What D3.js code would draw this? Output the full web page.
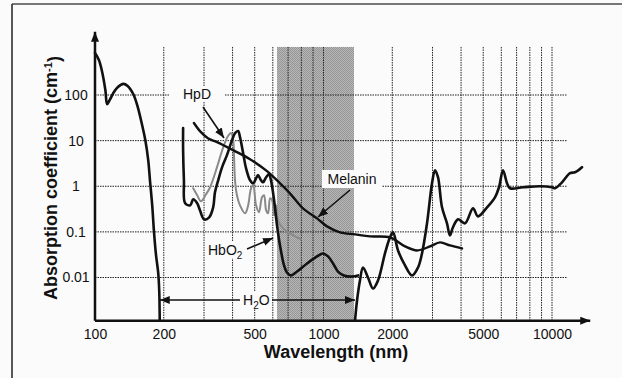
<!DOCTYPE html>
<html>
<head>
<meta charset="utf-8">
<script src="https://cdn.jsdelivr.net/npm/d3@7"></script>
<style>
  body { margin: 0; background: #fff; }
  text { font-family: Arial, "Liberation Sans", Helvetica, sans-serif; fill: #111; }
</style>
</head>
<body>
<svg id="chart" width="622" height="378"></svg>
<script>
// absorption spectra (nm, cm^-1)
var h2oLeftNm = [100,104,107,111,113,116,121,126,133,139,147,153,159,166,171,174,178,181,185,189,191,192];
var h2oLeftAbs = [838,588,354,129,63,78,116,150,175,158,105,60,28,10.3,3.7,1.35,0.38,0.108,0.0305,0.0129,0.0052,0.00113];

var h2oRightNm = [1374,1402,1444,1489,1566,1647,1732,1858,1954,2015,2119,2274,2440,2592,2698,2838,2985,3076,3170,3301,3471,3577,3687,3878,4162,4511,4745,5195,5630,5863,6104,6356,6549,7467,8862,10000,10306,11060,11990,12610,13530];
var h2oRightAbs = [0.00113,0.00313,0.0086,0.0166,0.0100,0.00573,0.0086,0.0337,0.0757,0.0975,0.0392,0.0184,0.0111,0.0166,0.0337,0.154,1.16,2.25,1.58,0.345,0.154,0.0838,0.126,0.188,0.154,0.328,0.219,0.345,0.573,0.95,2.25,1.16,0.904,0.95,1.0,0.95,0.904,1.22,1.93,2.03,2.62];

var hbo2Nm = [243,243,245,248,261,269,280,288,300,316,329,335,346,360,378,398,410,423,431,445,458,477,492,507,517,533,544,561,578,589,608,626,645,672,692,721,766,847,937,995,1046,1101,1157,1229,1333,1416];
var hbo2Abs = [18.8,6.18,1.35,0.423,0.382,0.518,0.423,0.297,0.188,0.208,0.345,0.738,1.35,2.62,4.80,10.3,14.6,16.2,11.9,5.31,2.49,1.35,1.16,1.50,1.75,1.35,1.22,1.58,1.84,1.35,0.492,0.139,0.0505,0.0184,0.0129,0.0111,0.0135,0.0203,0.029,0.0337,0.029,0.0203,0.0135,0.0111,0.0105,0.0111];

var hpdNm = [269,280,291,306,319,342,363,382,394,402,406,410,418,431,454,467,482,492,507,522,538,549,561,572,584,596,608,620,632,665,713,797];
var hpdAbs = [0.904,0.634,0.468,0.667,0.95,2.62,6.84,12.6,14.6,10.8,4.34,1.35,0.634,0.382,0.255,0.363,0.904,1.05,0.382,0.268,0.573,0.634,0.297,0.255,0.545,0.492,0.231,0.382,0.179,0.119,0.0927,0.0684];

var melaninNm = [271,288,312,342,402,477,566,645,713,813,937,1036,1181,1374,1598,1954,2274,2566,2925,3235,3577,4037];
var melaninAbs = [24.3,16.2,11.3,9.27,6.18,3.92,2.14,1.16,0.70,0.328,0.198,0.132,0.0975,0.0881,0.0796,0.0757,0.048,0.0392,0.048,0.0588,0.0505,0.0434];

var xTicks = [100,200,500,1000,2000,5000,10000];
var yTicks = [100,10,1,0.1,0.01];
var waterBand = [626, 1360];   // shaded H2O window

var svg = d3.select("#chart");
var x = d3.scaleLog().domain([100, 10000]).range([95, 552]);
var y = d3.scaleLog().domain([0.01, 100]).range([277.5, 95]);
var yMin = 0.00113, gridTop = 1130, gridRight = 11600, axisTop = 2430, axisRight = 14700;

// page
svg.append("rect").attr("width", 622).attr("height", 378).attr("fill", "#fbfbfb");
svg.append("line").attr("x1", 12).attr("x2", 622).attr("y1", 4).attr("y2", 4)
  .attr("stroke", "#777").attr("stroke-width", 2);
svg.append("line").attr("x1", 12).attr("x2", 12).attr("y1", 4).attr("y2", 378)
  .attr("stroke", "#222").attr("stroke-width", 1.5);

var defs = svg.append("defs");
var pat = defs.append("pattern").attr("id", "halftone").attr("width", 2).attr("height", 2)
  .attr("patternUnits", "userSpaceOnUse");
pat.append("rect").attr("width", 2).attr("height", 2).attr("fill", "#b6b6b6");
pat.append("rect").attr("width", 1).attr("height", 1).attr("fill", "#979797");
pat.append("rect").attr("x", 1).attr("y", 1).attr("width", 1).attr("height", 1).attr("fill", "#979797");

defs.append("marker").attr("id", "head").attr("viewBox", "0 0 10 8")
  .attr("refX", 10).attr("refY", 4).attr("markerWidth", 10).attr("markerHeight", 8)
  .attr("markerUnits", "userSpaceOnUse").attr("orient", "auto")
  .append("path").attr("d", "M0,0L10,4L0,8Z").attr("fill", "#111");

// shaded band
svg.append("rect")
  .attr("x", x(waterBand[0])).attr("width", x(waterBand[1]) - x(waterBand[0]))
  .attr("y", y(gridTop)).attr("height", y(yMin) - y(gridTop))
  .attr("fill", "url(#halftone)");

// grid
var vGrid = d3.range(2, 10).map(function(d) { return d * 100; })
  .concat(d3.range(1, 10).map(function(d) { return d * 1000; })).concat([10000]);
svg.append("g").selectAll("line").data(vGrid).enter().append("line")
  .attr("x1", function(d) { return x(d); }).attr("x2", function(d) { return x(d); })
  .attr("y1", y(gridTop)).attr("y2", y(yMin))
  .attr("stroke", "#222").attr("stroke-width", 1).attr("stroke-dasharray", "1.5,1");
svg.append("g").selectAll("line").data(yTicks).enter().append("line")
  .attr("x1", x(100)).attr("x2", x(gridRight))
  .attr("y1", function(d) { return y(d); }).attr("y2", function(d) { return y(d); })
  .attr("stroke", "#222").attr("stroke-width", 1).attr("stroke-dasharray", "1.5,1");

// curves
var line = d3.line()
  .x(function(d) { return x(d[0]); })
  .y(function(d) { return y(d[1]); })
  .curve(d3.curveCatmullRom.alpha(0.5));
function draw(nm, ab, color, w) {
  svg.append("path").datum(d3.zip(nm, ab)).attr("d", line)
    .attr("fill", "none").attr("stroke", color).attr("stroke-width", w)
    .attr("stroke-linejoin", "round").attr("stroke-linecap", "round");
}
draw(hpdNm, hpdAbs, "#8a8a8a", 2);
draw(melaninNm, melaninAbs, "#111", 2.4);
draw(hbo2Nm, hbo2Abs, "#111", 2.6);
draw(h2oLeftNm, h2oLeftAbs, "#111", 2.6);
draw(h2oRightNm, h2oRightAbs, "#111", 2.6);

// axes
svg.append("line").attr("x1", x(100)).attr("x2", x(axisRight)).attr("y1", y(yMin)).attr("y2", y(yMin))
  .attr("stroke", "#111").attr("stroke-width", 2.5).attr("marker-end", "url(#head)");
svg.append("line").attr("x1", x(100)).attr("x2", x(100)).attr("y1", y(yMin)).attr("y2", y(axisTop))
  .attr("stroke", "#111").attr("stroke-width", 2.5).attr("marker-end", "url(#head)");

var xAxis = svg.append("g").attr("transform", "translate(0," + y(yMin) + ")")
  .call(d3.axisBottom(x).tickValues(xTicks).tickFormat(d3.format("d")).tickSize(0).tickPadding(8));
var yAxis = svg.append("g").attr("transform", "translate(" + x(100) + ",0)")
  .call(d3.axisLeft(y).tickValues(yTicks).tickFormat(function(d) { return String(d); }).tickSize(0));
[xAxis, yAxis].forEach(function(g) {
  g.select(".domain").remove();
  g.selectAll("text").style("font-size", "14px").attr("fill", "#111")
    .style("font-family", "Arial, 'Liberation Sans', sans-serif");
});
yAxis.selectAll("text").attr("text-anchor", "middle").attr("x", -19);

svg.append("text").attr("x", 336).attr("y", 358).attr("text-anchor", "middle")
  .style("font-size", "18px").style("font-weight", "bold").text("Wavelength (nm)");
var yt = svg.append("text").attr("transform", "translate(51,178) rotate(-90)")
  .attr("text-anchor", "middle").attr("dy", "0.35em")
  .style("font-size", "18px").style("font-weight", "bold");
yt.append("tspan").text("Absorption coefficient (cm");
yt.append("tspan").attr("dy", "-0.45em").style("font-size", "11px").text("-1");
yt.append("tspan").attr("dy", "0.45em").text(")");

// annotations
function label(cx, cy, w, h) {
  svg.append("rect").attr("x", cx - w / 2).attr("y", cy - h / 2).attr("width", w).attr("height", h)
    .attr("fill", "#fbfbfb");
}
function arrow(x1, y1, x2, y2) {
  svg.append("line").attr("x1", x1).attr("y1", y1).attr("x2", x2).attr("y2", y2)
    .attr("stroke", "#111").attr("stroke-width", 1.6).attr("marker-end", "url(#head)");
}
label(197, 94, 56, 16);
svg.append("text").attr("x", 197).attr("y", 99).attr("text-anchor", "middle").style("font-size", "14px").text("HpD");
arrow(203, 107, 224, 138);

label(352, 179, 60, 18);
svg.append("text").attr("x", 352).attr("y", 184).attr("text-anchor", "middle").style("font-size", "14px").text("Melanin");
arrow(350, 190, 318, 217);

label(226, 250, 40, 17);
var hb = svg.append("text").attr("x", 208).attr("y", 255).style("font-size", "14px");
hb.append("tspan").text("HbO");
hb.append("tspan").attr("dy", 4).style("font-size", "10px").text("2");
arrow(247, 249, 273, 238);

label(256, 300, 32, 16);
var hw = svg.append("text").attr("x", 243).attr("y", 305).style("font-size", "14px");
hw.append("tspan").text("H");
hw.append("tspan").attr("dy", 4).style("font-size", "10px").text("2");
hw.append("tspan").attr("dy", -4).text("O");
arrow(240, 300, x(192), 300);
arrow(272, 300, x(1374), 300);
</script>
</body>
</html>
